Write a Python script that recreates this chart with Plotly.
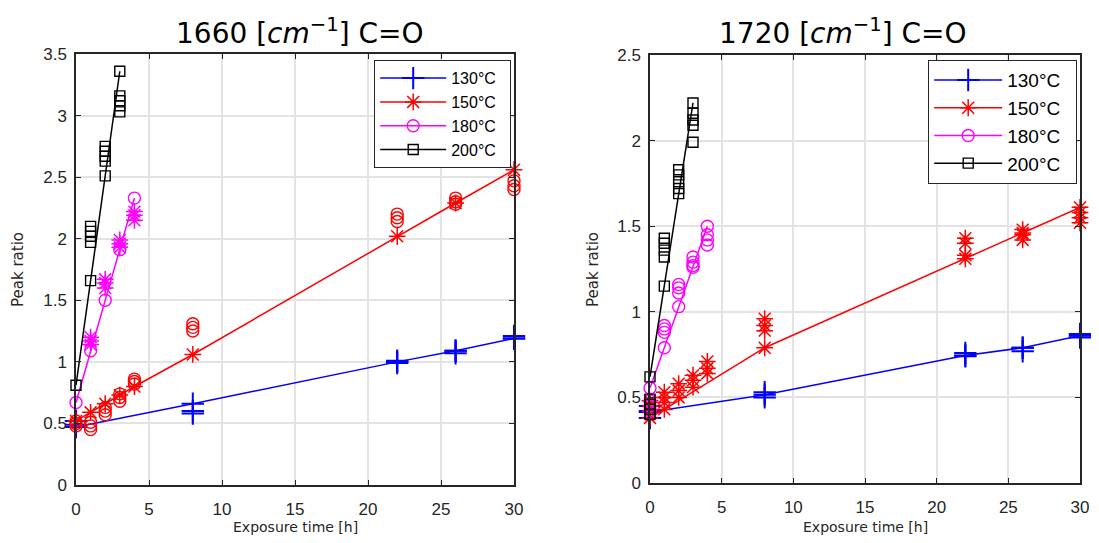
import plotly.graph_objects as go

# ---------------- data: 1660 cm-1 (left) ----------------
L130_fit_x = [0, 8, 22, 26, 30]
L130_fit_y = [0.47, 0.66, 1.00, 1.09, 1.19]
L130_obs_x = [0, 0, 8, 8, 22, 22, 26, 26, 30, 30]
L130_obs_y = [0.49, 0.52, 0.58, 0.60, 0.99, 1.01, 1.07, 1.09, 1.19, 1.21]

L150_fit_x = [0, 1, 2, 3, 4, 8, 22, 26, 30]
L150_fit_y = [0.52, 0.59, 0.66, 0.73, 0.80, 1.06, 2.02, 2.29, 2.56]
L150_obs_x = [0, 0, 0, 1, 1, 1, 2, 2, 2, 3, 3, 3, 4, 4, 4, 8, 8, 8, 22, 22, 22, 26, 26, 26, 30, 30, 30]
L150_obs_y = [0.48, 0.50, 0.52, 0.45, 0.48, 0.51, 0.57, 0.60, 0.63, 0.68, 0.71, 0.74, 0.82, 0.84, 0.86,
              1.25, 1.28, 1.31, 2.14, 2.17, 2.20, 2.28, 2.30, 2.33, 2.40, 2.43, 2.47]

L180_fit_x = [0, 1, 2, 3, 4]
L180_fit_y = [0.67, 1.09, 1.50, 1.91, 2.33]
L180_obs_x = [1, 1, 1, 2, 2, 2, 3, 3, 3, 4, 4, 4]
L180_obs_y = [1.14, 1.17, 1.20, 1.60, 1.64, 1.67, 1.93, 1.96, 1.99, 2.15, 2.19, 2.22]

L200_fit_x = [0, 1, 2, 3]
L200_fit_y = [0.81, 1.66, 2.51, 3.36]
L200_obs_x = [1, 1, 1, 1, 2, 2, 2, 2, 3, 3, 3, 3]
L200_obs_y = [1.97, 2.02, 2.06, 2.10, 2.63, 2.67, 2.71, 2.75, 3.03, 3.08, 3.12, 3.16]

# ---------------- data: 1720 cm-1 (right) ----------------
R130_fit_x = [0, 8, 22, 26, 30]
R130_fit_y = [0.415, 0.515, 0.745, 0.79, 0.86]
R130_obs_x = [0, 0, 0, 8, 8, 22, 22, 26, 26, 30, 30]
R130_obs_y = [0.38, 0.42, 0.45, 0.50, 0.53, 0.74, 0.76, 0.77, 0.79, 0.85, 0.87]

R150_fit_x = [0, 1, 8, 22, 26, 30]
R150_fit_y = [0.38, 0.43, 0.79, 1.31, 1.46, 1.61]
R150_obs_x = [0, 0, 0, 1, 1, 1, 2, 2, 2, 3, 3, 3, 4, 4, 4, 8, 8, 8, 22, 22, 22, 26, 26, 26, 30, 30, 30]
R150_obs_y = [0.42, 0.45, 0.48, 0.47, 0.50, 0.53, 0.50, 0.54, 0.58, 0.56, 0.60, 0.63, 0.64, 0.67, 0.71,
              0.89, 0.92, 0.96, 1.33, 1.40, 1.43, 1.42, 1.45, 1.48, 1.52, 1.55, 1.58]

R180_fit_x = [0, 1, 2, 3, 4]
R180_fit_y = [0.555, 0.79, 1.03, 1.26, 1.50]
R180_obs_x = [0, 0, 0, 1, 1, 1, 2, 2, 2, 3, 3, 3, 4, 4, 4]
R180_obs_y = [0.42, 0.45, 0.48, 0.88, 0.90, 0.92, 1.11, 1.14, 1.16, 1.27, 1.29, 1.32, 1.39, 1.42, 1.45]

R200_fit_x = [0, 1, 2, 3]
R200_fit_y = [0.62, 1.15, 1.69, 2.22]
R200_obs_x = [0, 0, 0, 0, 1, 1, 1, 1, 2, 2, 2, 2, 3, 3, 3, 3]
R200_obs_y = [0.40, 0.43, 0.46, 0.49, 1.32, 1.36, 1.40, 1.43, 1.72, 1.76, 1.80, 1.83, 1.99, 2.09, 2.12, 2.16]

series_names = ["130°C", "150°C", "180°C", "200°C"]
colors = ["#0000ff", "#ff0000", "#ff00ff", "#000000"]
fit_symbols = ["cross-thin-open", "asterisk-open", "circle-open", "square-open"]
left_obs_symbols = ["cross-thin-open", "circle-open", "asterisk-open", "square-open"]
right_obs_symbols = ["cross-thin-open", "asterisk-open", "circle-open", "square-open"]

titles = ["1660 [<i>cm</i><sup>−1</sup>] C=O", "1720 [<i>cm</i><sup>−1</sup>] C=O"]
x_title = "Exposure time [h]"
y_title = "Peak ratio"

left_sets = [(L130_fit_x, L130_fit_y, L130_obs_x, L130_obs_y),
             (L150_fit_x, L150_fit_y, L150_obs_x, L150_obs_y),
             (L180_fit_x, L180_fit_y, L180_obs_x, L180_obs_y),
             (L200_fit_x, L200_fit_y, L200_obs_x, L200_obs_y)]
right_sets = [(R130_fit_x, R130_fit_y, R130_obs_x, R130_obs_y),
              (R150_fit_x, R150_fit_y, R150_obs_x, R150_obs_y),
              (R180_fit_x, R180_fit_y, R180_obs_x, R180_obs_y),
              (R200_fit_x, R200_fit_y, R200_obs_x, R200_obs_y)]

sym_size = {"cross-thin-open": 16, "asterisk-open": 14, "circle-open": 12, "square-open": 10}
sym_lw = {"cross-thin-open": 2.0, "asterisk-open": 1.5, "circle-open": 1.4, "square-open": 1.4}
PAD = "\u00a0\u00a0"

fig = go.Figure()

def add_panel(sets, obs_symbols, xa, ya, legend):
    for i, (fx, fy, ox, oy) in enumerate(sets):
        s = obs_symbols[i]
        fig.add_trace(go.Scatter(
            x=ox, y=oy, mode="markers", xaxis=xa, yaxis=ya, showlegend=False,
            cliponaxis=False, legend=legend,
            marker=dict(symbol=s, size=sym_size[s], color=colors[i],
                        line=dict(color=colors[i], width=sym_lw[s]))))
        s = fit_symbols[i]
        fig.add_trace(go.Scatter(
            x=fx, y=fy, mode="lines+markers", name=series_names[i] + PAD, xaxis=xa, yaxis=ya,
            cliponaxis=False, legend=legend,
            line=dict(color=colors[i], width=1.5),
            marker=dict(symbol=s, size=sym_size[s], color=colors[i],
                        line=dict(color=colors[i], width=sym_lw[s]))))

add_panel(left_sets, left_obs_symbols, "x", "y", "legend")
add_panel(right_sets, right_obs_symbols, "x2", "y2", "legend2")

# page offset (browser body margin); figure sized to the visible body area
OFF = 8
W, H = 1099 - 2 * OFF, 543 - 2 * OFF
def fx_(px): return (px - OFF) / W
def fy_(py): return (H - (py - OFF)) / H

axis_common = dict(showline=True, mirror="ticks", linecolor="#262626", linewidth=1.5,
                   ticks="inside", ticklen=5, tickwidth=1.2, tickcolor="#262626",
                   showgrid=True, gridcolor="#e3e3e3", gridwidth=1.5, zeroline=False,
                   automargin=False,
                   tickfont=dict(family="Liberation Sans, Arial", size=17, color="#262626"))

fig.update_layout(
    width=W, height=H, paper_bgcolor="white", plot_bgcolor="white",
    margin=dict(l=0, r=0, t=0, b=0, autoexpand=False), showlegend=True,
    xaxis=dict(domain=[fx_(76), fx_(514)], range=[0, 30], dtick=5, anchor="y",
               ticklabelstandoff=8, **axis_common),
    yaxis=dict(domain=[fy_(485), fy_(54)], range=[0, 3.5], dtick=0.5, anchor="x",
               ticklabelstandoff=4, **axis_common),
    xaxis2=dict(domain=[fx_(650), fx_(1080)], range=[0, 30], dtick=5, anchor="y2",
                ticklabelstandoff=8, **axis_common),
    yaxis2=dict(domain=[fy_(483), fy_(55)], range=[0, 2.5], dtick=0.5, anchor="x2",
                ticklabelstandoff=4, **axis_common),
    legend=dict(x=fx_(511), y=fy_(60), xanchor="right", yanchor="top", bgcolor="white",
                bordercolor="#262626", borderwidth=1.2, itemwidth=66, tracegroupgap=0,
                font=dict(family="Liberation Sans, Arial", size=16, color="#000")),
    legend2=dict(x=fx_(1077), y=fy_(60), xanchor="right", yanchor="top", bgcolor="white",
                 bordercolor="#262626", borderwidth=1.2, itemwidth=68, tracegroupgap=0,
                 font=dict(family="Liberation Sans, Arial", size=19, color="#000")),
)

ann = []
for cx, t in [(300, titles[0]), (843, titles[1])]:
    ann.append(dict(x=fx_(cx), y=fy_(31), xref="paper", yref="paper", text=t, showarrow=False,
                    xanchor="center", yanchor="middle",
                    font=dict(family="DejaVu Sans", size=28, color="#000")))
for cx in [295, 865]:
    ann.append(dict(x=fx_(cx), y=fy_(527), xref="paper", yref="paper", text=x_title, showarrow=False,
                    xanchor="center", yanchor="middle",
                    font=dict(family="DejaVu Sans", size=14, color="#262626")))
for cx in [18, 593]:
    ann.append(dict(x=fx_(cx), y=fy_(270), xref="paper", yref="paper", text=y_title, showarrow=False,
                    textangle=-90, xanchor="center", yanchor="middle",
                    font=dict(family="DejaVu Sans", size=15, color="#262626")))
fig.update_layout(annotations=ann)

fig.write_html("out.html")
